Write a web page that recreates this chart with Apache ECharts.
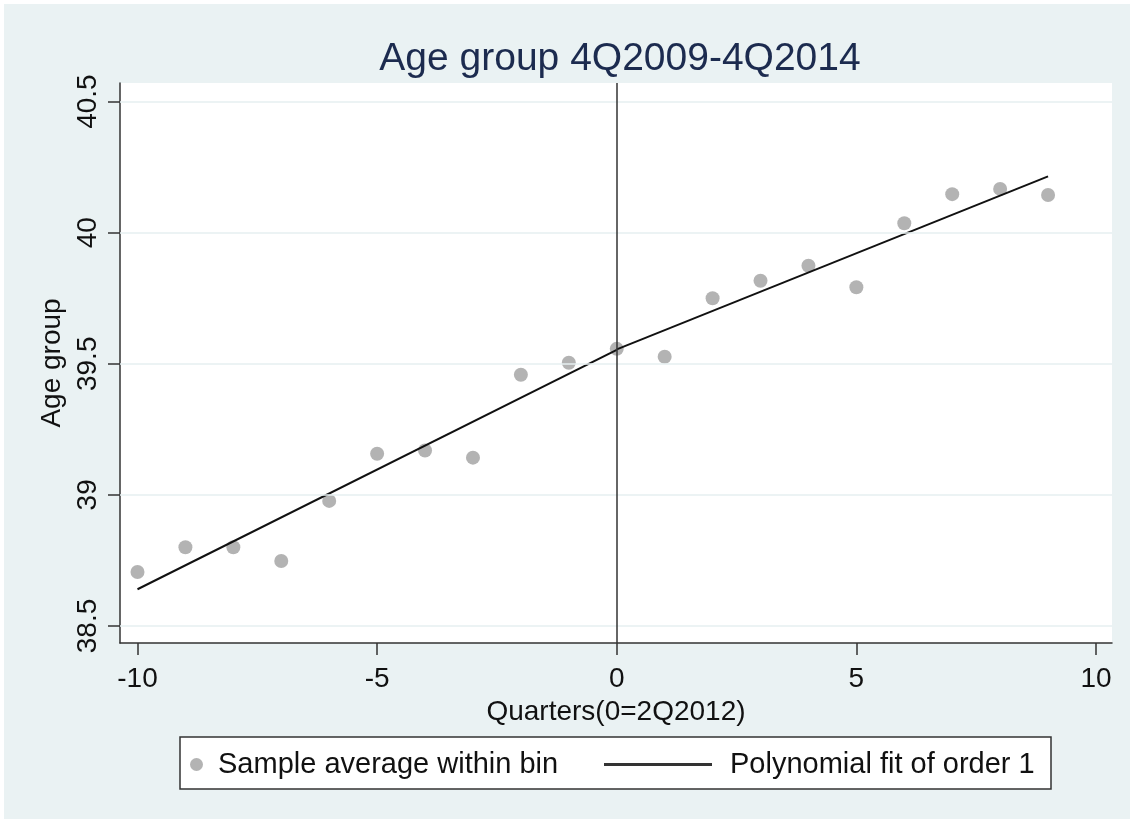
<!DOCTYPE html>
<html>
<head>
<meta charset="utf-8">
<script src="https://cdn.jsdelivr.net/npm/echarts@6/dist/echarts.min.js"></script>
<style>
  html, body { margin: 0; padding: 0; background: #ffffff; }
  #chart { position: absolute; left: 4px; top: 4px; width: 1126px; height: 815px; }
</style>
</head>
<body>
<div id="chart"></div>
<script>
// ---- data ----
const binX = [-10, -9, -8, -7, -6, -5, -4, -3, -2, -1, 0, 1, 2, 3, 4, 5, 6, 7, 8, 9];
const binY = [38.706, 38.800, 38.800, 38.748, 38.977, 39.157, 39.169, 39.142, 39.458, 39.504,
              39.557, 39.527, 39.750, 39.817, 39.874, 39.792, 40.036, 40.147, 40.167, 40.144];
const fitLeftX = [-10, 0];
const fitLeftY = [38.640, 39.553];
const fitRightX = [0, 9];
const fitRightY = [39.555, 40.215];
const xTicks = [-10, -5, 0, 5, 10];
const yTicks = [38.5, 39, 39.5, 40, 40.5];
const cutoffX = 0;

const titleText = 'Age group 4Q2009-4Q2014';
const xName = 'Quarters(0=2Q2012)';
const yName = 'Age group';
const scatterName = 'Sample average within bin';
const fitName = 'Polynomial fit of order 1';

const FONT = '"Liberation Sans", Arial, sans-serif';

const chart = echarts.init(document.getElementById('chart'), null, { renderer: 'canvas' });

const zip = (xs, ys) => xs.map((x, i) => [x, ys[i]]);

const option = {
  backgroundColor: '#eaf2f3',
  animation: false,
  title: {
    text: titleText,
    left: 611,
    textAlign: 'center',
    top: 31,
    textStyle: { fontFamily: FONT, fontSize: 39, fontWeight: 'normal', color: '#1c2b4f' }
  },
  grid: {
    left: 116, right: 18, top: 79, bottom: 176,
    show: true, backgroundColor: '#ffffff', borderWidth: 0
  },
  graphic: [{
    type: 'rect',
    shape: { x: 176, y: 733, width: 871, height: 52 },
    style: { fill: '#ffffff', stroke: '#333333', lineWidth: 1.5 },
    z: 0
  }],
  legend: [{
    data: [{ name: scatterName, icon: 'circle' }],
    left: 186, top: 746,
    itemWidth: 13, itemHeight: 13,
    padding: 0,
    textStyle: { fontFamily: FONT, fontSize: 29, color: '#111111', padding: [0, 0, 0, 10] },
    selectedMode: false,
    z: 5
  }, {
    data: [{ name: fitName, icon: 'rect', itemStyle: { color: '#333333' } }],
    left: 600, top: 746,
    itemWidth: 108, itemHeight: 3,
    padding: 0,
    textStyle: { fontFamily: FONT, fontSize: 29, color: '#111111', padding: [0, 0, 0, 13] },
    selectedMode: false,
    z: 5
  }],
  xAxis: {
    type: 'value',
    min: -10.365, max: 10.334,
    name: xName,
    nameLocation: 'middle',
    nameGap: 51,
    nameTextStyle: { fontFamily: FONT, fontSize: 28, color: '#111111' },
    axisLine: { show: true, onZero: false, lineStyle: { color: '#333333', width: 1.5 } },
    axisTick: { show: true, length: 12, customValues: xTicks, lineStyle: { color: '#333333', width: 1.5 } },
    axisLabel: { customValues: xTicks, margin: 22, fontFamily: FONT, fontSize: 28, color: '#111111' },
    splitLine: { show: false }
  },
  yAxis: {
    type: 'value',
    min: 38.435, max: 40.571,
    name: yName,
    nameLocation: 'middle',
    nameGap: 48,
    nameRotate: 90,
    nameTextStyle: { fontFamily: FONT, fontSize: 28, color: '#111111' },
    axisLine: { show: true, onZero: false, lineStyle: { color: '#333333', width: 1.5 } },
    axisTick: { show: true, length: 12, customValues: yTicks, lineStyle: { color: '#333333', width: 1.5 } },
    axisLabel: { customValues: yTicks, rotate: 90, margin: 18, fontFamily: FONT, fontSize: 28, color: '#111111',
                 formatter: v => String(v) },
    splitLine: { show: false }
  },
  series: [{
    name: 'grid',
    type: 'line',
    data: [],
    silent: true,
    markLine: {
      silent: true,
      symbol: ['none', 'none'],
      label: { show: false },
      lineStyle: { color: '#e6eff1', width: 1.5, type: 'solid' },
      data: yTicks.map(v => ({ yAxis: v }))
    },
    z: 1
  }, {
    name: scatterName,
    type: 'scatter',
    data: zip(binX, binY),
    symbol: 'circle',
    symbolSize: 14,
    itemStyle: { color: '#a0a0a0' },
    z: 3
  }, {
    name: fitName,
    type: 'line',
    data: zip(fitLeftX, fitLeftY),
    symbol: 'none',
    lineStyle: { color: '#111111', width: 2 },
    z: 4
  }, {
    name: fitName,
    type: 'line',
    data: zip(fitRightX, fitRightY),
    symbol: 'none',
    lineStyle: { color: '#111111', width: 2 },
    markLine: {
      silent: true,
      symbol: ['none', 'none'],
      label: { show: false },
      lineStyle: { color: '#333333', width: 1.5, type: 'solid' },
      data: [{ xAxis: cutoffX }]
    },
    z: 4
  }]
};

chart.setOption(option);
</script>
</body>
</html>
